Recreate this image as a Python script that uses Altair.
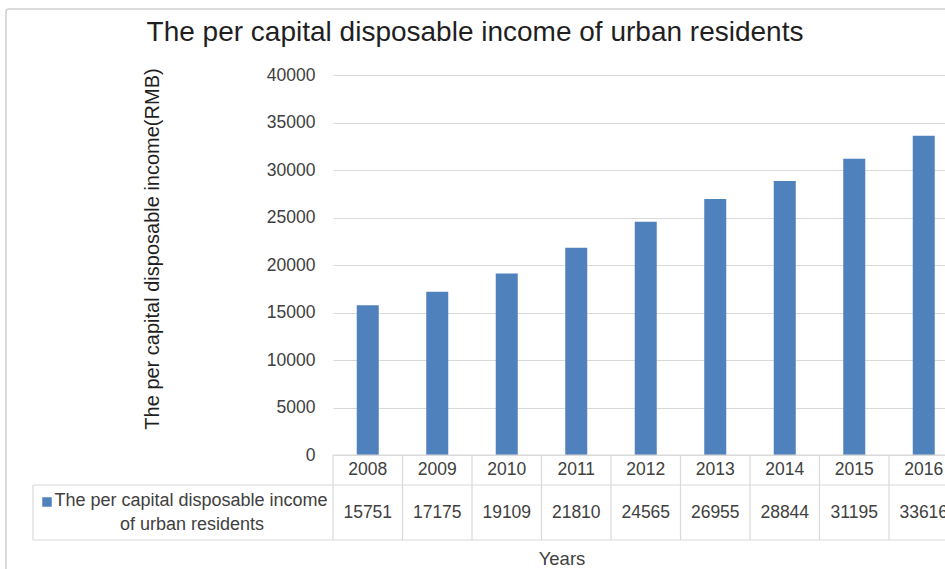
import altair as alt
import pandas as pd

years = ["2008", "2009", "2010", "2011", "2012", "2013", "2014", "2015", "2016"]
income = [15751, 17175, 19109, 21810, 24565, 26955, 28844, 31195, 33616]
y_ticks = [0, 5000, 10000, 15000, 20000, 25000, 30000, 35000, 40000]

title_text = "The per capital disposable income of urban residents"
y_title = "The per capital disposable income(RMB)"
x_title = "Years"
series_line1 = "The per capital disposable income"
series_line2 = "of urban residents"

df = pd.DataFrame({"year": years, "income": income})
one = pd.DataFrame({"k": [0]})

FONT = "Liberation Sans"
TXT = "#404040"
BLUE = "#4f81bd"
GRID = "#d9d9d9"

xs = alt.Scale(domain=years, range=[0, 625.5], paddingInner=0, paddingOuter=0)
ys = alt.Scale(domain=[0, 40000])

base = alt.Chart(df)

bars = base.mark_bar(size=22, color=BLUE).encode(
    x=alt.X("year:N", scale=xs, axis=None),
    y=alt.Y(
        "income:Q",
        scale=ys,
        axis=alt.Axis(
            values=y_ticks,
            format="d",
            title=None,
            domain=False,
            ticks=False,
            labelPadding=18,
            labelFontSize=17.5,
            labelFont=FONT,
            labelColor=TXT,
            gridColor=GRID,
            gridWidth=1.2,
        ),
    ),
)

# data table: year row and value row
year_row = base.mark_text(fontSize=17.5, font=FONT, color=TXT, baseline="middle").encode(
    x=alt.X("year:N", scale=xs, axis=None),
    y=alt.value(395),
    text="year:N",
)
value_row = base.mark_text(fontSize=17.5, font=FONT, color=TXT, baseline="middle").encode(
    x=alt.X("year:N", scale=xs, axis=None),
    y=alt.value(438),
    text="income:Q",
)

# table grid lines
vlines = base.mark_rule(color=GRID, strokeWidth=1.2).encode(
    x=alt.X("year:N", scale=xs, axis=None, bandPosition=0),
    y=alt.value(380),
    y2=alt.value(465),
)
left_vline = alt.Chart(one).mark_rule(color=GRID, strokeWidth=1.2).encode(
    x=alt.value(-300), y=alt.value(410), y2=alt.value(465)
)
h1 = alt.Chart(one).mark_rule(color=GRID, strokeWidth=1.2).encode(
    x=alt.value(0), x2=alt.value(640), y=alt.value(380)
)
h2 = alt.Chart(one).mark_rule(color=GRID, strokeWidth=1.2).encode(
    x=alt.value(-300), x2=alt.value(640), y=alt.value(410)
)
h3 = alt.Chart(one).mark_rule(color=GRID, strokeWidth=1.2).encode(
    x=alt.value(-300), x2=alt.value(640), y=alt.value(465)
)

# legend key in table
key = alt.Chart(one).mark_square(size=90, color=BLUE, opacity=1, filled=True).encode(
    x=alt.value(-286), y=alt.value(427)
)
key_l1 = alt.Chart(one).mark_text(
    text=series_line1, fontSize=18, font=FONT, color=TXT, align="center", baseline="middle"
).encode(x=alt.value(-142), y=alt.value(426))
key_l2 = alt.Chart(one).mark_text(
    text=series_line2, fontSize=18, font=FONT, color=TXT, align="center", baseline="middle"
).encode(x=alt.value(-141), y=alt.value(450))

# titles
title = alt.Chart(one).mark_text(
    text=title_text, fontSize=28, font=FONT, color="#1f1f1f", align="center", baseline="middle"
).encode(x=alt.value(142), y=alt.value(-42))
ytitle = alt.Chart(one).mark_text(
    text=y_title, fontSize=20, font=FONT, color="#1f1f1f", angle=270, align="center", baseline="middle"
).encode(x=alt.value(-180), y=alt.value(174))
xtitle = alt.Chart(one).mark_text(
    text=x_title, fontSize=18.5, font=FONT, color=TXT, align="center", baseline="middle"
).encode(x=alt.value(229), y=alt.value(484))

# outer chart border
border = alt.Chart(one).mark_rect(
    fillOpacity=0, stroke="#d0d0d0", strokeWidth=1.5, cornerRadius=3
).encode(x=alt.value(-327), x2=alt.value(700), y=alt.value(-66), y2=alt.value(600))

chart = alt.layer(
    border, bars, vlines, left_vline, h1, h2, h3, year_row, value_row,
    key, key_l1, key_l2, title, ytitle, xtitle,
).properties(
    width=612,
    height=380,
    autosize=alt.AutoSizeParams(type="none"),
    padding={"left": 333, "top": 75, "right": 0, "bottom": 114},
    background="white",
).configure_view(strokeWidth=0)

chart.save("out.html", embed_options={"renderer": "svg", "actions": False})
